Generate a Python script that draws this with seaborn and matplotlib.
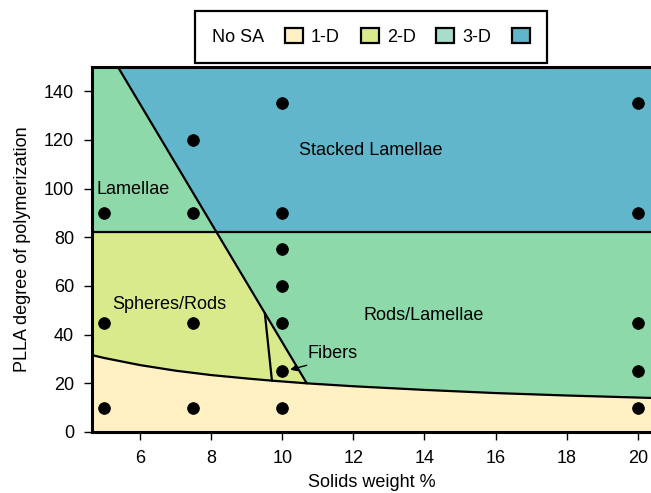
import numpy as np
import pandas as pd
import matplotlib
matplotlib.use("Agg")
import matplotlib.pyplot as plt
from matplotlib.patches import Patch
import seaborn as sns

# ---- data ----
dot_x = [5, 5, 5, 7.5, 7.5, 7.5, 7.5, 10, 10, 10, 10, 10, 10, 10, 20, 20, 20, 20, 20]
dot_y = [90, 45, 10, 120, 90, 45, 10, 135, 90, 75, 60, 45, 25, 10, 135, 90, 45, 25, 10]

curve_x = [4.65, 5.0, 6.0, 7.0, 8.0, 9.0, 9.71, 10.69, 12.0, 14.0, 16.0, 18.0, 20.37]
curve_y = [31.6, 30.4, 27.5, 25.2, 23.4, 22.0, 21.1, 20.0, 18.8, 17.3, 16.0, 15.0, 14.0]

diag_x = [5.38, 10.69]
diag_y = [150, 20.0]

vert_x = [9.51, 9.71]
vert_y = [48.9, 21.1]

horiz_y = 82

legend_labels = ["No SA", "1-D", "2-D", "3-D"]
legend_colors = ["#FFF1C4", "#D8EA8C", "#A9DDCB", "#60B5CB"]

c_yellow = "#FFF1C4"
c_lgreen = "#D8EA8C"
c_mint = "#8DD9AA"
c_blue = "#62B6CB"

xlim = (4.65, 20.37)
ylim = (0, 150)

# ---- figure ----
sns.set_theme(style="ticks")
plt.rcParams['font.family'] = ['Liberation Sans', 'DejaVu Sans']
plt.rcParams['text.color'] = 'black'
plt.rcParams['axes.labelcolor'] = 'black'

fig = plt.figure(figsize=(6.51, 4.93), dpi=100)
ax = fig.add_axes([92 / 651, 1 - 432 / 493, 1 - 92 / 651, (432 - 67) / 493])
ax.set_xlim(*xlim)
ax.set_ylim(*ylim)

# background (mint)
ax.fill([xlim[0], xlim[1], xlim[1], xlim[0]], [0, 0, 150, 150], color=c_mint, lw=0, zorder=0)

# intersection of diagonal with horizontal line
x_int = np.interp(horiz_y, diag_y[::-1], diag_x[::-1])

# blue region
ax.fill([x_int, diag_x[0], xlim[1], xlim[1]], [horiz_y, diag_y[0], 150, horiz_y],
        color=c_blue, lw=0, zorder=1)

# light green region
idx_end = curve_x.index(diag_x[1])
poly_x = [xlim[0], x_int, diag_x[1]] + curve_x[:idx_end + 1][::-1]
poly_y = [horiz_y, horiz_y, diag_y[1]] + curve_y[:idx_end + 1][::-1]
ax.fill(poly_x, poly_y, color=c_lgreen, lw=0, zorder=1)

# yellow region
ax.fill_between(curve_x, 0, curve_y, color=c_yellow, lw=0, zorder=2)

# boundaries
lw = 1.6
sns.lineplot(x=curve_x, y=curve_y, color="black", lw=lw, ax=ax, sort=False, estimator=None, zorder=3)
sns.lineplot(x=diag_x, y=diag_y, color="black", lw=lw, ax=ax, sort=False, estimator=None, zorder=3)
sns.lineplot(x=vert_x, y=vert_y, color="black", lw=lw, ax=ax, sort=False, estimator=None, zorder=3)
sns.lineplot(x=list(xlim), y=[horiz_y, horiz_y], color="black", lw=lw, ax=ax, sort=False,
             estimator=None, zorder=3)

# points
sns.scatterplot(x=dot_x, y=dot_y, color="black", s=70, edgecolor="black", ax=ax, zorder=5)

# texts
fs = 13
ax.text(12.49, 115.8, "Stacked Lamellae", ha="center", va="center", fontsize=fs, zorder=6)
ax.text(4.78, 99.8, "Lamellae", ha="left", va="center", fontsize=fs, zorder=6)
ax.text(6.82, 52.5, "Spheres/Rods", ha="center", va="center", fontsize=fs, zorder=6)
ax.text(13.98, 48.0, "Rods/Lamellae", ha="center", va="center", fontsize=fs, zorder=6)
ax.annotate("Fibers", xy=(10.22, 25.6), xytext=(10.72, 32.4), ha="left", va="center",
            fontsize=fs, zorder=6,
            arrowprops=dict(arrowstyle="-|>", color="black", lw=1.0, relpos=(0.25, 0.0),
                            shrinkA=1, shrinkB=0, mutation_scale=10))

# axes styling
ax.set_xticks([6, 8, 10, 12, 14, 16, 18, 20])
ax.set_yticks([0, 20, 40, 60, 80, 100, 120, 140])
ax.tick_params(axis="both", direction="out", length=6, width=1.0, labelsize=13,
               colors="black", pad=7)
for s in ["left", "bottom", "top"]:
    ax.spines[s].set_linewidth(2.2)
    ax.spines[s].set_color("black")
ax.spines["right"].set_visible(False)
ax.set_xlabel("Solids weight %", fontsize=13, color="black", labelpad=5)
ax.set_ylabel("PLLA degree of polymerization", fontsize=13, color="black", labelpad=9)

# legend
handles = [Patch(facecolor=c, edgecolor="black", linewidth=1.6) for c in legend_colors]
leg = fig.legend(handles, legend_labels, ncol=4, loc="upper center",
                 bbox_to_anchor=(371 / 651, 1 - 11 / 493), markerfirst=False,
                 frameon=True, fancybox=False, edgecolor="black", fontsize=13,
                 handlelength=1.0, handleheight=0.9, handletextpad=1.15,
                 columnspacing=0.45, borderpad=0.95, borderaxespad=0, framealpha=1)
leg.get_frame().set_linewidth(1.6)

fig.savefig("out.png", dpi=100)
